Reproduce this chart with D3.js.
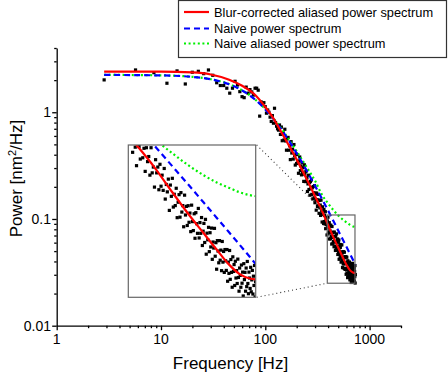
<!DOCTYPE html>
<html lang="en">
<head>
  <meta charset="UTF-8">
  <title>Power spectrum</title>
  <script src="https://d3js.org/d3.v7.min.js"></script>
  <style>
    body { margin: 0; padding: 0; background: #fff; }
    svg { display: block; font-family: "Liberation Sans", Arial, sans-serif; }
  </style>
</head>
<body>
  <div id="chart"></div>

  <script>
    // measured spectrum (Hz, nm^2/Hz)
    const freqHz = [
      2.85, 5.70, 8.55, 11.40, 14.25, 17.10, 19.95, 22.80, 25.65, 28.50,
      31.35, 34.20, 37.05, 39.90, 42.75, 45.60, 48.45, 51.30, 54.15, 57.00,
      59.85, 62.70, 65.55, 68.40, 71.25, 74.10, 76.95, 79.80, 82.65, 85.50,
      88.35, 91.20, 94.05, 96.90, 99.75, 102.60, 105.45, 108.30, 111.15, 114.00,
      116.85, 119.70, 122.55, 125.40, 128.25, 131.10, 133.95, 136.80, 139.65, 142.50,
      145.35, 148.20, 151.05, 153.90, 156.75, 159.60, 162.45, 165.30, 168.15, 171.00,
      173.85, 176.70, 179.55, 182.40, 185.25, 188.10, 190.95, 193.80, 196.65, 199.50,
      202.35, 205.20, 208.05, 210.90, 213.75, 216.60, 219.45, 222.30, 225.15, 228.00,
      230.85, 233.70, 236.55, 239.40, 242.25, 245.10, 247.95, 250.80, 253.65, 256.50,
      259.35, 262.20, 265.05, 267.90, 270.75, 273.60, 276.45, 279.30, 282.15, 285.00,
      287.85, 290.70, 293.55, 296.40, 299.25, 302.10, 304.95, 307.80, 310.65, 313.50,
      316.35, 319.20, 322.05, 324.90, 327.75, 330.60, 333.45, 336.30, 339.15, 342.00,
      344.85, 347.70, 350.55, 353.40, 356.25, 359.10, 361.95, 364.80, 367.65, 370.50,
      373.35, 376.20, 379.05, 381.90, 384.75, 387.60, 390.45, 393.30, 396.15, 399.00,
      401.85, 404.70, 407.55, 410.40, 413.25, 416.10, 418.95, 421.80, 424.65, 427.50,
      430.35, 433.20, 436.05, 438.90, 441.75, 444.60, 447.45, 450.30, 453.15, 456.00,
      458.85, 461.70, 464.55, 467.40, 470.25, 473.10, 475.95, 478.80, 481.65, 484.50,
      487.35, 490.20, 493.05, 495.90, 498.75, 501.60, 504.45, 507.30, 510.15, 513.00,
      515.85, 518.70, 521.55, 524.40, 527.25, 530.10, 532.95, 535.80, 538.65, 541.50,
      544.35, 547.20, 550.05, 552.90, 555.75, 558.60, 561.45, 564.30, 567.15, 570.00,
      572.85, 575.70, 578.55, 581.40, 584.25, 587.10, 589.95, 592.80, 595.65, 598.50,
      601.35, 604.20, 607.05, 609.90, 612.75, 615.60, 618.45, 621.30, 624.15, 627.00,
      629.85, 632.70, 635.55, 638.40, 641.25, 644.10, 646.95, 649.80, 652.65, 655.50,
      658.35, 661.20, 664.05, 666.90, 669.75, 672.60, 675.45, 678.30, 681.15, 684.00,
      686.85, 689.70, 692.55, 695.40, 698.25, 701.10, 703.95, 706.80, 709.65, 712.50,
      715.35, 718.20, 721.05, 723.90, 726.75, 729.60
    ];
    const power = [
      2.01, 2.49, 2.35, 1.87, 2.44, 1.84, 2.37, 2.42, 2.30, 2.49,
      2.22, 1.89, 1.78, 1.78, 1.68, 1.51, 1.68, 1.95, 1.80, 1.56,
      1.40, 1.37, 1.72, 1.51, 1.63, 1.55, 1.45, 1.68, 1.68, 1.61,
      0.92, 1.25, 1.21, 1.23, 1.13, 0.98, 1.05, 1.00, 0.90, 0.82,
      0.93, 0.79, 1.09, 0.80, 0.74, 0.70, 0.68, 0.76, 0.62,
      0.727, 0.541, 0.641, 0.550, 0.693, 0.538, 0.441, 0.563, 0.581, 0.441,
      0.485, 0.360, 0.530, 0.415, 0.451, 0.364, 0.498, 0.391, 0.320, 0.407,
      0.331, 0.401, 0.340, 0.268, 0.350, 0.381, 0.284, 0.314, 0.259, 0.338,
      0.273, 0.302, 0.225, 0.322, 0.261, 0.224, 0.278, 0.226, 0.243, 0.181,
      0.213, 0.257, 0.189, 0.219, 0.167, 0.224, 0.194, 0.232, 0.170, 0.196,
      0.154, 0.201, 0.176, 0.158, 0.205, 0.142, 0.174, 0.151, 0.121, 0.175,
      0.152, 0.131, 0.170, 0.133, 0.149, 0.113, 0.150, 0.127, 0.135, 0.108,
      0.150, 0.111, 0.119, 0.0936, 0.130, 0.111, 0.119, 0.0907, 0.123, 0.0946,
      0.108, 0.0900, 0.117, 0.0811, 0.0966, 0.0884, 0.103, 0.0708, 0.0959, 0.0838,
      0.104, 0.0737, 0.0859, 0.0750, 0.0923, 0.0649, 0.0781, 0.0855, 0.0653, 0.0876,
      0.0694, 0.0750, 0.0582, 0.0850, 0.0670, 0.0743, 0.0591, 0.0749, 0.0614, 0.0686,
      0.0549, 0.0754, 0.0619, 0.0556, 0.0680, 0.0507, 0.0689, 0.0604, 0.0538, 0.0725,
      0.0509, 0.0612, 0.0538, 0.0650, 0.0465, 0.0552, 0.0606, 0.0482, 0.0636, 0.0419,
      0.0539, 0.0498, 0.0578, 0.0432, 0.0542, 0.0457, 0.0573, 0.0394, 0.0485, 0.0451,
      0.0571, 0.0409, 0.0481, 0.0350, 0.0493, 0.0435, 0.0378, 0.0493, 0.0390, 0.0440,
      0.0344, 0.0488, 0.0381, 0.0433, 0.0337, 0.0443, 0.0387, 0.0345, 0.0443, 0.0303,
      0.0381, 0.0333, 0.0438, 0.0310, 0.0393, 0.0337, 0.0282, 0.0406, 0.0341, 0.0370,
      0.0288, 0.0385, 0.0315, 0.0344, 0.0295, 0.0395, 0.0317, 0.0269, 0.0355, 0.0325,
      0.0282, 0.0368, 0.0296, 0.0338, 0.0254, 0.0374, 0.0309, 0.0337, 0.0269, 0.0355,
      0.0284, 0.0384, 0.0295, 0.0261, 0.0338, 0.0315, 0.0278, 0.0358, 0.0267, 0.0308,
      0.0345, 0.0260, 0.0322, 0.0288, 0.0366, 0.0251, 0.0301
    ];

    // fitted model curves
    const fitFreq = [2.85, 10, 20, 30, 45, 60, 80, 100, 120, 140, 170, 200, 250, 300, 350, 400, 450, 500, 550, 600, 650, 700, 729.6];
    const blurCorrected = [2.40, 2.40, 2.36, 2.26, 2.02, 1.77, 1.45, 1.12, 0.87, 0.67, 0.48, 0.36, 0.235, 0.163, 0.119, 0.0875, 0.0672, 0.0540, 0.0443, 0.0372, 0.0330, 0.0313, 0.0310];
    const naive = [2.238, 2.215, 2.145, 2.037, 1.829, 1.601, 1.311, 1.063, 0.863, 0.706, 0.533, 0.412, 0.283, 0.204, 0.154, 0.1196, 0.0956, 0.0780, 0.0649, 0.0548, 0.0469, 0.0405, 0.0373];
    const naiveAliased = [2.24, 2.216, 2.147, 2.04, 1.833, 1.606, 1.318, 1.072, 0.873, 0.718, 0.548, 0.431, 0.304, 0.228, 0.168, 0.140, 0.121, 0.108, 0.099, 0.093, 0.088, 0.085, 0.084];

    const xTicks = [1, 10, 100, 1000];
    const yTicks = [0.01, 0.1, 1];
    const yTickLabels = ['0.01', '0.1', '1'];
    const seriesNames = ['Blur-corrected aliased power spectrum', 'Naive power spectrum', 'Naive aliased power spectrum'];

    // region marked on the main plot, and the range shown in the inset
    const zoomFreq = [393, 724];
    const zoomPower = [0.025, 0.109];
    const insetFreq = [290, 730];
    const insetPower = [0.025, 0.155];

    const width = 448;
    const height = 375;

    const svg = d3.select('#chart')
      .append('svg')
      .attr('width', width)
      .attr('height', height);

    const x = d3.scaleLog().domain([1, 2000]).range([56.7, 401]);
    const y = d3.scaleLog().domain([0.01, 4]).range([325.7, 48]);

    const points = freqHz.map((f, i) => ({ f: f, p: power[i] }));
    const curves = [
      { values: blurCorrected, color: '#ff0000', dash: null },
      { values: naive, color: '#0000ff', dash: '6,4' },
      { values: naiveAliased, color: '#00f000', dash: '2,2.6' }
    ];

    // minor tick values, 2..9 per decade
    function minorTicks(lo, hi) {
      const out = [];
      for (let d = 0.001; d <= 1000; d *= 10) {
        for (let m = 2; m <= 9; m++) {
          const v = +(m * d).toPrecision(3);
          if (v >= lo && v <= hi) out.push(v);
        }
      }
      return out;
    }

    // axes
    const xAxisY = y.range()[0];
    const xAxisX = x.range()[0];

    svg.append('g')
      .attr('transform', `translate(0,${xAxisY})`)
      .call(d3.axisBottom(x).tickValues(minorTicks(1, 2000)).tickSize(2.5).tickSizeOuter(0).tickFormat(''))
      .call(g => g.select('.domain').remove());
    svg.append('g')
      .attr('transform', `translate(0,${xAxisY})`)
      .call(d3.axisBottom(x).tickValues(xTicks).tickSize(4.5).tickSizeOuter(0).tickFormat(''));

    svg.append('g')
      .attr('transform', `translate(${xAxisX},0)`)
      .call(d3.axisLeft(y).tickValues(minorTicks(0.01, 4)).tickSize(2.5).tickSizeOuter(0).tickFormat(''))
      .call(g => g.select('.domain').remove());
    svg.append('g')
      .attr('transform', `translate(${xAxisX},0)`)
      .call(d3.axisLeft(y).tickValues(yTicks).tickSize(4.5).tickSizeOuter(0).tickFormat(''));

    svg.selectAll('.domain, .tick line')
      .attr('stroke', '#000')
      .attr('stroke-width', 1.3);

    svg.selectAll('.xlab')
      .data(xTicks)
      .enter().append('text')
      .attr('x', d => x(d))
      .attr('y', 344.3)
      .attr('text-anchor', 'middle')
      .style('font-size', '14px')
      .text(d => d);

    svg.selectAll('.ylab')
      .data(yTicks)
      .enter().append('text')
      .attr('x', 51)
      .attr('y', d => y(d) + 5)
      .attr('text-anchor', 'end')
      .style('font-size', '14px')
      .text((d, i) => yTickLabels[i]);

    svg.append('text')
      .attr('x', 230.5)
      .attr('y', 368.7)
      .attr('text-anchor', 'middle')
      .style('font-size', '17px')
      .text('Frequency [Hz]');

    const yTitle = svg.append('text')
      .attr('transform', 'translate(22,178.5) rotate(-90)')
      .attr('text-anchor', 'middle')
      .style('font-size', '17px');
    yTitle.append('tspan').text('Power [nm');
    yTitle.append('tspan').attr('dy', -6).style('font-size', '11px').text('2');
    yTitle.append('tspan').attr('dy', 6).text('/Hz]');

    // draws the squares and the three curves with a pair of scales
    function drawSpectrum(g, sx, sy) {
      g.selectAll('rect.pt')
        .data(points)
        .enter().append('rect')
        .attr('class', 'pt')
        .attr('x', d => sx(d.f) - 1.6)
        .attr('y', d => sy(d.p) - 1.6)
        .attr('width', 3.2)
        .attr('height', 3.2)
        .attr('fill', '#000');

      const line = d3.line()
        .x((d, i) => sx(fitFreq[i]))
        .y(d => sy(d))
        .curve(d3.curveMonotoneX);

      curves.slice().reverse().forEach(c => {
        g.append('path')
          .attr('d', line(c.values))
          .attr('fill', 'none')
          .attr('stroke', c.color)
          .attr('stroke-width', 2.2)
          .attr('stroke-dasharray', c.dash);
      });
    }

    drawSpectrum(svg.append('g'), x, y);

    // zoom box on the main plot
    const zx0 = x(zoomFreq[0]), zx1 = x(zoomFreq[1]);
    const zy0 = y(zoomPower[1]), zy1 = y(zoomPower[0]);
    svg.append('rect')
      .attr('x', zx0).attr('y', zy0)
      .attr('width', zx1 - zx0).attr('height', zy1 - zy0)
      .attr('fill', 'none')
      .attr('stroke', '#666')
      .attr('stroke-width', 1.2);

    // inset
    const inset = { x0: 128.3, x1: 255.7, y0: 145, y1: 297.3 };
    const ix = d3.scaleLog().domain(insetFreq).range([inset.x0, inset.x1]);
    const iy = d3.scaleLog().domain(insetPower).range([inset.y1, inset.y0]);

    svg.append('defs').append('clipPath')
      .attr('id', 'inset-clip')
      .append('rect')
      .attr('x', inset.x0).attr('y', inset.y0)
      .attr('width', inset.x1 - inset.x0).attr('height', inset.y1 - inset.y0);

    svg.append('rect')
      .attr('x', inset.x0).attr('y', inset.y0)
      .attr('width', inset.x1 - inset.x0).attr('height', inset.y1 - inset.y0)
      .attr('fill', '#fff');

    drawSpectrum(svg.append('g').attr('clip-path', 'url(#inset-clip)'), ix, iy);

    svg.append('rect')
      .attr('x', inset.x0).attr('y', inset.y0)
      .attr('width', inset.x1 - inset.x0).attr('height', inset.y1 - inset.y0)
      .attr('fill', 'none')
      .attr('stroke', '#666')
      .attr('stroke-width', 1.2);

    // dotted connectors
    [[inset.x1, inset.y0, zx0, zy0], [inset.x1, inset.y1, zx0, zy1]].forEach(s => {
      svg.append('line')
        .attr('x1', s[0] + 1).attr('y1', s[1])
        .attr('x2', s[2]).attr('y2', s[3])
        .attr('stroke', '#333')
        .attr('stroke-width', 1.1)
        .attr('stroke-dasharray', '1,3');
    });

    // legend
    const legend = svg.append('g');
    legend.append('rect')
      .attr('x', 178.5).attr('y', 0.5)
      .attr('width', 268).attr('height', 57)
      .attr('fill', '#fff')
      .attr('stroke', '#333')
      .attr('stroke-width', 1.2);

    const rowY = [12, 28.5, 43.5];
    seriesNames.forEach((name, i) => {
      legend.append('line')
        .attr('x1', 184).attr('x2', 209)
        .attr('y1', rowY[i]).attr('y2', rowY[i])
        .attr('stroke', curves[i].color)
        .attr('stroke-width', 2.2)
        .attr('stroke-dasharray', curves[i].dash);
      legend.append('text')
        .attr('x', 214)
        .attr('y', rowY[i] + 4.5)
        .style('font-size', '12.8px')
        .text(name);
    });
  </script>
</body>
</html>
